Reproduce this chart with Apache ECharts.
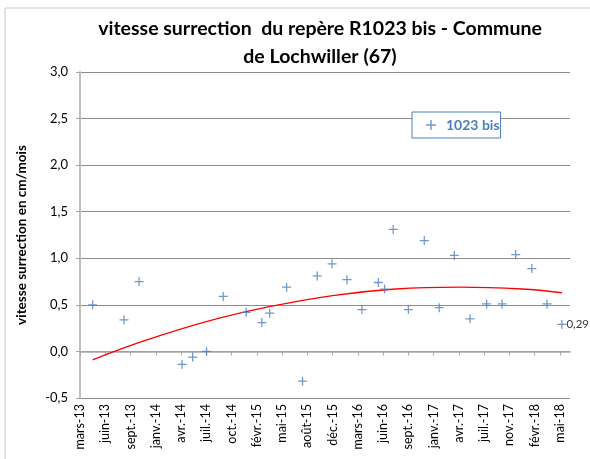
<!DOCTYPE html>
<html>
<head>
<meta charset="utf-8">
<script src="https://cdn.jsdelivr.net/npm/echarts@6/dist/echarts.min.js"></script>
<style>
  html, body { margin: 0; padding: 0; background: #fff; }
  #chart { width: 590px; height: 459px; }
</style>
</head>
<body>
<div id="chart"></div>
<script>
// axis starts on this day, one tick every 100 days
const START = '2013-03-10'
const TICK_DAYS = 100

const tickLabels = ['mars-13', 'juin-13', 'sept.-13', 'janv.-14', 'avr.-14', 'juil.-14', 'oct.-14',
  'févr.-15', 'mai-15', 'août-15', 'déc.-15', 'mars-16', 'juin-16', 'sept.-16', 'janv.-17',
  'avr.-17', 'juil.-17', 'nov.-17', 'févr.-18', 'mai-18']

const dates = ['2013-04-29', '2013-08-31', '2013-10-30', '2014-04-18', '2014-05-30', '2014-07-24',
  '2014-09-28', '2014-12-28', '2015-02-28', '2015-03-31', '2015-06-06', '2015-08-08', '2015-10-05',
  '2015-12-03', '2016-01-31', '2016-03-30', '2016-06-03', '2016-06-28', '2016-08-01', '2016-09-30',
  '2016-12-02', '2017-01-30', '2017-03-31', '2017-06-01', '2017-08-06', '2017-10-06', '2017-11-29',
  '2018-02-01', '2018-04-02', '2018-05-31']
const values = [0.50, 0.34, 0.75, -0.14, -0.06, 0.00, 0.59, 0.42, 0.31, 0.41, 0.69, -0.32, 0.81,
  0.94, 0.77, 0.45, 0.74, 0.67, 1.31, 0.45, 1.19, 0.47, 1.03, 0.35, 0.51, 0.51, 1.04, 0.89, 0.51, 0.29]

// trend curve (polynomial)
const trendDates = ['2013-04-29', '2013-11-15', '2014-07-23', '2015-03-30', '2015-12-05',
  '2016-08-11', '2017-04-18', '2017-12-24', '2018-05-31']
const trendValues = [-0.09, 0.11, 0.32, 0.48, 0.60, 0.67, 0.69, 0.67, 0.63]

const BLUE = '#4a7ebb'
const FONT = 'Lato'
const PLUS = 'path://M4.3,0H5.7V4.3H10V5.7H5.7V10H4.3V5.7H0V4.3H4.3Z'

function dayOf (s) {
  let a = s.split('-').map(Number)
  let b = START.split('-').map(Number)
  return Math.round((Date.UTC(a[0], a[1] - 1, a[2]) - Date.UTC(b[0], b[1] - 1, b[2])) / 86400000)
}

const last = values.length - 1
const points = dates.map((d, i) => {
  let p = { value: [dayOf(d), values[i]] }
  if (i === last) {
    p.label = {
      show: true,
      position: 'right',
      distance: 0,
      color: '#000',
      fontFamily: FONT,
      fontSize: 11.5,
      formatter: (o) => o.value[1].toFixed(2).replace('.', ',')
    }
  }
  return p
})
const trend = trendDates.map((d, i) => [dayOf(d), trendValues[i]])
const tickValues = tickLabels.map((t, i) => i * TICK_DAYS)

let chart = echarts.init(document.getElementById('chart'))
chart.setOption({
  backgroundColor: '#fff',
  animation: false,
  graphic: [{
    type: 'rect',
    shape: { x: 5, y: 8, width: 620, height: 480 },
    style: { fill: 'none', stroke: '#c8c8c8', lineWidth: 1 },
    silent: true
  }],
  title: {
    text: 'vitesse surrection  du repère R1023 bis - Commune\nde Lochwiller (67)',
    left: 315,
    top: 10,
    textAlign: 'center',
    textStyle: { fontFamily: FONT, fontSize: 19.5, fontWeight: 'bold', color: '#000', lineHeight: 28 }
  },
  legend: {
    left: 412,
    top: 112,
    data: ['1023 bis'],
    icon: PLUS,
    itemWidth: 10,
    itemHeight: 10,
    padding: [6, 1, 6, 14],
    borderColor: BLUE,
    borderWidth: 1,
    backgroundColor: '#fff',
    textStyle: { fontFamily: FONT, fontSize: 14, fontWeight: 'bold', color: BLUE, padding: [0, 0, 0, 5] }
  },
  grid: { left: 80, right: 20, top: 72, bottom: 61 },
  xAxis: {
    type: 'value',
    min: 0,
    max: 1940,
    axisLine: { show: true, lineStyle: { color: '#a6a6a6', width: 1.5 } },
    axisTick: { show: true, length: 4, customValues: tickValues, lineStyle: { color: '#a6a6a6' } },
    splitLine: { show: false },
    axisLabel: {
      customValues: tickValues,
      rotate: 90,
      margin: 6,
      fontFamily: FONT,
      fontSize: 12.5,
      color: '#000',
      formatter: (v) => tickLabels[Math.round(v / TICK_DAYS)] || ''
    }
  },
  yAxis: {
    type: 'value',
    min: -0.5,
    max: 3,
    interval: 0.5,
    name: 'vitesse surrection en cm/mois',
    nameLocation: 'middle',
    nameGap: 51,
    nameTextStyle: { fontFamily: FONT, fontSize: 13.5, fontWeight: 'bold', color: '#000' },
    axisLine: { show: true, lineStyle: { color: '#bfbfbf', width: 2 } },
    axisTick: { show: true, length: 4, lineStyle: { color: '#a6a6a6' } },
    splitLine: { show: true, lineStyle: { color: '#8c8c8c', width: 1 } },
    axisLabel: {
      margin: 12,
      fontFamily: FONT,
      fontSize: 13,
      color: '#000',
      formatter: (v) => v.toFixed(1).replace('.', ',')
    }
  },
  series: [
    {
      name: 'trend',
      type: 'line',
      data: trend,
      smooth: 0.4,
      showSymbol: false,
      lineStyle: { color: '#ff0000', width: 1.3 },
      z: 1
    },
    {
      name: '1023 bis',
      type: 'scatter',
      data: points,
      symbol: PLUS,
      symbolSize: 9,
      itemStyle: { color: BLUE },
      z: 3
    }
  ]
})
</script>
</body>
</html>
